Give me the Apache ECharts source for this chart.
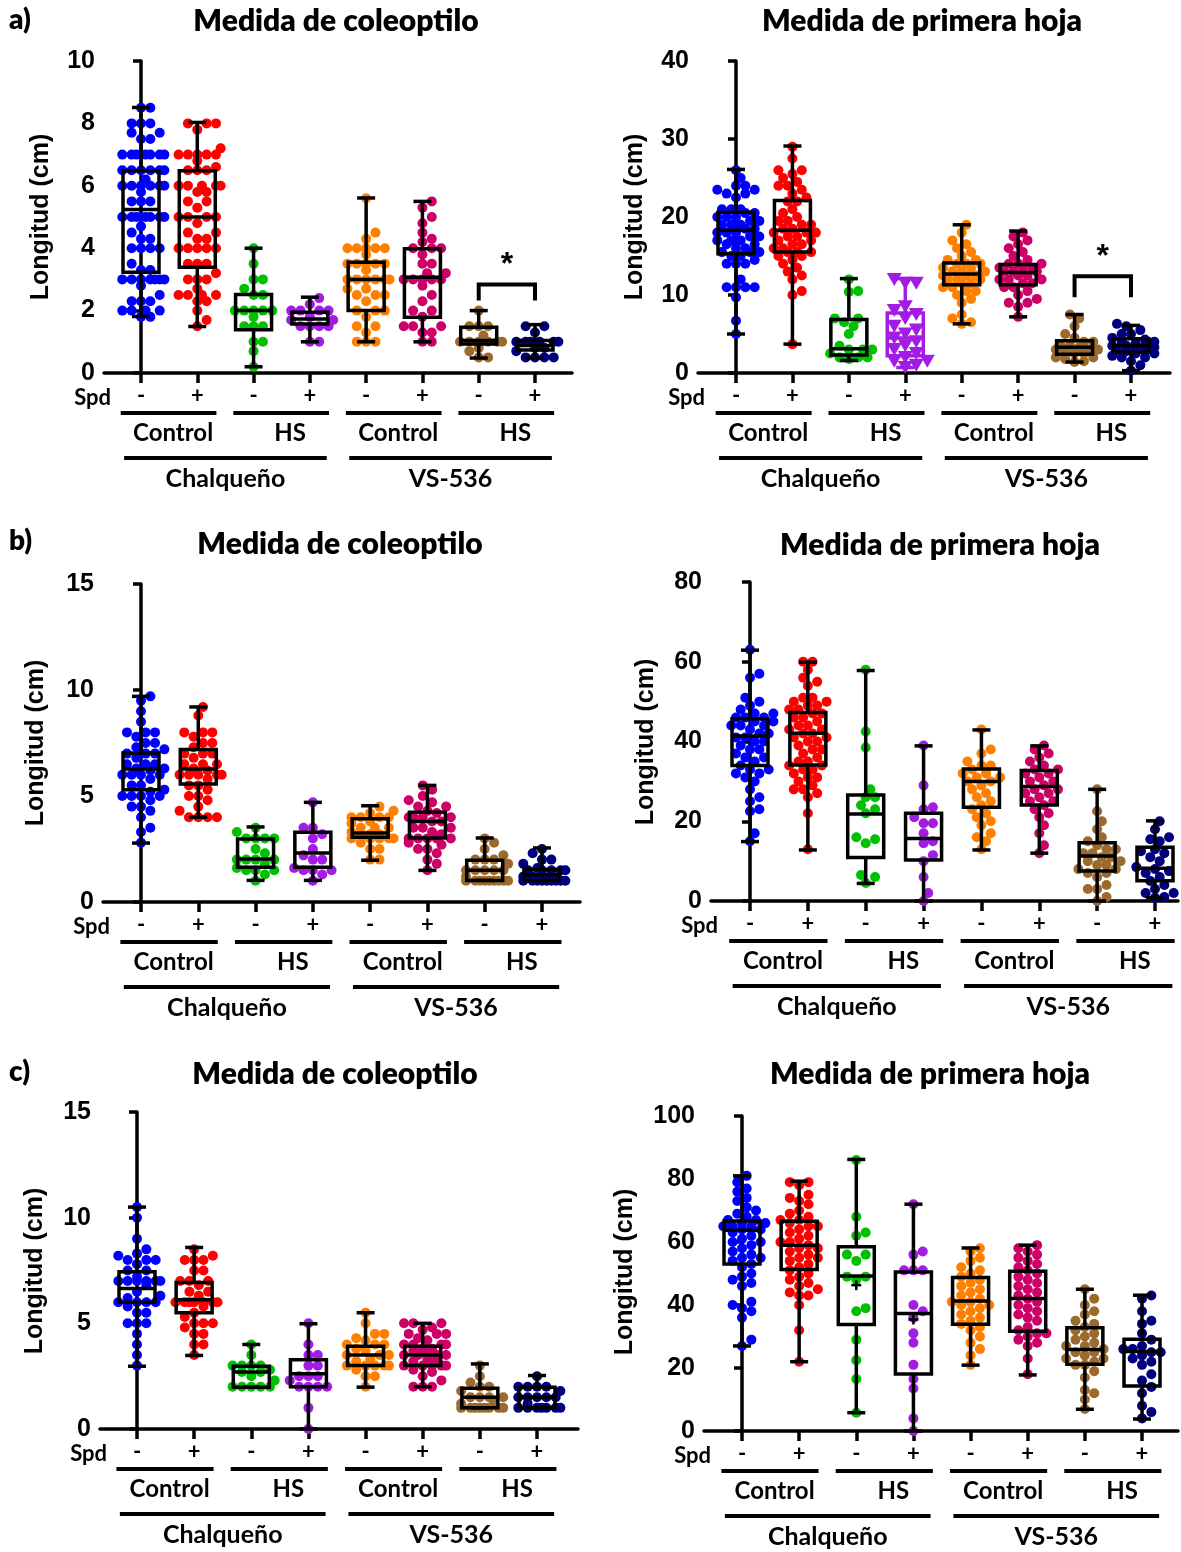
<!DOCTYPE html>
<html>
<head>
<meta charset="utf-8">
<script src="https://cdn.jsdelivr.net/npm/echarts@6/dist/echarts.min.js"></script>
<style>
  html, body { margin: 0; padding: 0; background: #fff; }
  #chart { width: 1181px; height: 1552px; }
</style>
</head>
<body>
<div id="chart"></div>
<script>
// ---- labels ----
const spdLabels = ['-', '+', '-', '+', '-', '+', '-', '+'];
const treatmentLabels = ['Control', 'HS', 'Control', 'HS'];
const cultivarLabels = ['Chalqueño', 'VS-536'];
const panelLetters = ['a)', 'b)', 'c)'];
const panelTitles = ['Medida de coleoptilo', 'Medida de primera hoja'];
const yAxisName = 'Longitud (cm)';

// ---- box statistics per group: [min, Q1, median, Q3, max] ----
const boxA1 = [[1.81,3.23,5.24,6.48,8.51],[1.49,3.39,5.0,6.48,8.03],[0.2,1.39,2.0,2.52,4.0],[1.0,1.57,1.73,1.95,2.43],[1.0,2.0,3.0,3.55,5.61],[1.0,1.79,3.07,3.98,5.5],[0.48,0.93,1.04,1.47,2.0],[0.48,0.74,0.88,1.04,1.55]];
const boxA2 = [[5.0,15.3,18.3,20.6,26.1],[3.7,15.5,18.3,22.1,29.1],[1.6,2.3,3.1,6.85,12.1],[0.7,2.2,4.5,7.7,12.1],[6.3,11.3,12.7,14.1,19.0],[7.2,11.3,12.9,13.9,18.2],[1.4,2.4,3.3,4.15,7.5],[0.3,2.65,3.5,4.4,6.1]];
const boxB1 = [[2.78,5.30,6.27,7.03,9.70],[4.0,5.57,6.27,7.19,9.2],[1.02,1.64,2.03,2.97,3.54],[1.02,1.64,2.31,3.29,4.70],[1.97,3.05,3.25,3.93,4.54],[1.49,3.02,3.8,4.23,5.5],[1.02,1.02,1.5,1.97,3.02],[1.0,1.02,1.29,1.53,2.55]];
const boxB2 = [[14.9,34.0,41.4,45.7,62.9],[12.8,34.1,42.1,47.3,59.9],[4.4,10.9,21.8,26.6,57.8],[0,10.3,15.7,22.0,38.9],[12.8,23.5,30.0,33.1,42.9],[12.0,24.1,28.7,32.7,38.9],[0,7.5,11.3,14.6,28.0],[0.8,5.1,8.2,13.5,20.1]];
const boxC1 = [[2.97,6.0,6.65,7.44,10.5],[3.48,5.5,6.12,6.93,8.59],[1.98,1.98,2.7,2.97,4.0],[0,2.0,2.61,3.28,4.98],[1.98,3.0,3.5,3.92,5.5],[2.0,3.0,3.5,3.92,5.0],[1.0,1.0,1.5,1.93,3.08],[1.0,1.0,1.5,1.98,2.53]];
const boxC2 = [[27.0,53.0,63.7,66.7,81.0],[22.0,51.3,59.0,66.6,79.3],[5.8,33.8,49.2,58.5,86.2],[0,18.1,37.3,50.5,72.0],[20.9,33.9,41.3,48.7,58.1],[17.8,31.7,42.1,50.7,59.0],[6.9,21.2,25.9,32.8,45.0],[3.8,14.3,25.2,29.1,43.1]];

// group means shown as "+" (only where visible)
const meanC2 = [null, null, 46.3, 35.4, null, null, null, null];

// ---- individual measurements per group ----
const dotsA1 = [
  [8.5,8.5,8.0,8.0,8.0,7.7,7.7,7.5,7.5,7.0,7.0,7.0,7.0,7.0,7.0,7.0,7.0,6.5,6.5,6.5,6.5,6.5,6.5,6.2,6.0,6.0,6.0,6.0,6.0,6.0,5.8,5.5,5.5,5.5,5.0,5.0,5.0,5.0,5.0,5.0,5.0,5.0,4.7,4.5,4.3,4.3,4.0,4.0,4.0,4.0,3.5,3.3,3.3,3.0,3.0,3.0,3.0,3.0,3.0,3.0,2.8,2.5,2.3,2.3,2.3,2.0,2.0,2.0,2.0,1.8,1.8],
  [8.0,8.0,8.0,7.8,7.2,7.0,7.0,7.0,7.0,7.0,6.8,6.6,6.5,6.5,6.5,6.0,6.0,6.0,6.0,6.0,5.8,5.8,5.5,5.5,5.3,5.0,5.0,5.0,5.0,4.8,4.5,4.5,4.3,4.3,4.0,4.0,4.0,4.0,4.0,3.5,3.5,3.5,3.2,3.0,3.0,3.0,2.7,2.5,2.5,2.5,2.5,2.3,2.3,2.0,1.7,1.5],
  [4.0,3.5,3.0,3.0,2.7,2.5,2.5,2.0,2.0,2.0,2.0,2.0,1.8,1.5,1.5,1.5,1.0,1.0,0.7,0.2],
  [2.4,2.2,2.0,2.0,2.0,2.0,1.8,1.7,1.7,1.5,1.5,1.5,1.5,1.0,1.0],
  [5.6,4.5,4.3,4.0,4.0,4.0,4.0,4.0,3.8,3.5,3.5,3.5,3.5,3.5,3.3,3.0,3.0,3.0,3.0,3.0,3.0,2.7,2.7,2.5,2.5,2.5,2.3,2.0,2.0,2.0,1.8,1.5,1.5,1.3,1.0,1.0,1.0],
  [5.5,5.3,5.0,4.8,4.5,4.3,4.2,4.0,4.0,4.0,3.8,3.5,3.5,3.2,3.2,3.0,3.0,3.0,3.0,3.0,2.8,2.5,2.3,2.0,2.0,1.8,1.5,1.5,1.5,1.3,1.3,1.0,1.0],
  [2.0,1.5,1.5,1.5,1.2,1.0,1.0,1.0,1.0,1.0,1.0,0.8,0.7,0.5,0.5],
  [1.5,1.5,1.3,1.0,1.0,1.0,1.0,1.0,1.0,0.8,0.8,0.7,0.5,0.5,0.5,0.5]
];
const dotsA2 = [
  [26,25,24,24,23.5,23.5,23,23,22.5,21,21,21,20.5,20.5,20,20,20,19.5,19.5,19,19,19,18.5,18.5,18,18,18,17.5,17.5,17,17,17,16.5,16.5,16,16,15.5,15.5,15.5,15,15,14.5,14,14,14,12,11,11,11,11,9.7,6.7,5],
  [29,27.5,26,26,25.5,25,24.5,24,24,23.5,23,22.5,22,22,21,20.5,20,19.5,19.5,19,19,18.5,18.5,18,18,18,17.5,17.5,17,17,16.5,16.5,16,16,15.5,15.5,15.5,15,15,14.5,14,13.5,13,12.5,12,10.5,10,3.7],
  [12,10.5,10.4,7,7,6.5,6,5,3.5,3,3,3,2.5,2,2,2,1.8],
  [12,11.5,11.5,8.5,8,7.5,7,6,5.5,5,4.5,4,3.5,3,2.5,2,1.5,1.5,1,0.7],
  [19,18,17,16.5,16,15.5,15,14.5,14.5,14,14,14,13.5,13.5,13,13,13,12.5,12.5,12.5,12,12,12,11.5,11.5,11,11,10.5,10.5,10,9.5,9,7.5,7,6.5,6.3],
  [18,17.5,17,16.5,16,15.5,15,14.5,14,14,14,13.5,13.5,13.5,13,13,13,12.5,12.5,12,12,12,11.5,11.5,11,11,10.5,10,9.5,9,9,8.5,7.2],
  [7.5,7,6,5,4.5,4,4,3.5,3.5,3.3,3,3,3,2.8,2.5,2.5,2,2,1.8,1.5,1.4],
  [6.3,6,5.5,5,5,4.5,4.3,4,4,3.8,3.5,3.5,3.5,3.3,3,3,3,2.8,2.5,2.5,2.2,2,2,1.5,1,0.3]
];
const dotsB1 = [
  [9.7,9.5,9,8.5,8,8,8,7.8,7.5,7.5,7.3,7.2,7,7,7,6.8,6.5,6.5,6.5,6.3,6.3,6.2,6,6,6,6,5.8,5.5,5.5,5.3,5.2,5,5,5,5,4.8,4.5,4.5,4.3,4,3.5,3.3,2.8],
  [9.2,8.8,8,8,8,7.8,7.5,7.5,7.3,7,7,7,6.8,6.5,6.5,6.5,6.3,6.2,6,6,6,6,6,5.8,5.5,5.5,5.3,5,5,4.8,4.5,4.3,4,4,4,4],
  [3.5,3.3,3,3,3,3,2.5,2.3,2,2,2,2,1.8,1.6,1.5,1.5,1.5,1.3,1],
  [4.7,3.5,3.5,3.2,3,2.5,2.2,2,2,1.6,1.5,1.5,1.5,1.3,1],
  [4.5,4.3,4.2,4,4,4,4,3.8,3.7,3.5,3.5,3.5,3.3,3.2,3.2,3.1,3,3,3,3,3,2.8,2.5,2.5,2,2],
  [5.5,5.3,5,4.8,4.7,4.5,4.5,4.3,4.2,4,4,4,4,3.8,3.8,3.5,3.5,3.5,3.3,3.2,3,3,3,3,3,2.8,2.7,2.5,2.5,2.3,2,1.8,1.5],
  [3,2.8,2.5,2.2,2,2,2,1.8,1.5,1.5,1.5,1.5,1.5,1.2,1,1,1,1,1,1,1,1,1],
  [2.5,2.3,2,2,1.8,1.6,1.5,1.5,1.5,1.5,1.5,1.2,1.2,1,1,1,1,1,1,1,1,1]
];
const dotsB2 = [
  [63,57,56,51,50,49,48,47,47,46,46,46,45,45,44,44,44,43,42,42,41,41,40,40,39,38,38,37,36,36,35,34,33,33,32,32,31,30,28,26,25,23,22.5,17,15],
  [60,60,58,56,55,54,51,51,50,50,49,49,48,48,47,47,46,46,45,44,44,43,43,42,42,41,41,40,40,39,38,38,37,36,35,35,34,34,33,33,32,31,31,30,29,28,28,27,26,22,13],
  [58,42.5,38.5,28,26,26,24,23,22,16,15.5,14.5,6.5,6,4.5],
  [39,29,23.5,23,21,19.5,19.5,17,15,14.5,11.5,10,6,2,0],
  [43,38,37,35,34,34,33,32,32,31,31,30,30,29,28,27,26,25,24,23,22,21,20,19,17,16,15,13],
  [39,38,37,36,35,34,33,33,32,32,31,30,30,29,28,28,27,27,26,25,25,24,23,22,21,19,17,14,12],
  [28,22.5,20,18,16,15,14,13,13,12,12,11,11,10,10,9,9,8,8,7,7,6,4,3,3,1,0],
  [20,18,16,15.5,15,13,12.5,12,11,10,9,8.5,8,7.5,7,6,5,4,3,2,2,1,0.8]
];
const dotsC1 = [
  [10.5,10,9,8.5,8.3,8.2,8,8,8,7.8,7.5,7.5,7.2,7,7,7,7,7,7,6.8,6.5,6.3,6.2,6,6,6,6,5.8,5.5,5.5,5,5,5,4.5,4,3.5,3],
  [8.5,8.2,8,8,8,7.5,7.5,7,7,7,6.8,6.5,6.5,6.3,6,6,6,6,6,6,6,5.8,5.5,5.3,5,5,5,4.8,4.5,4.5,4,4,3.5],
  [4,3.5,3,3,3,3,2.8,2.7,2.7,2.5,2.3,2,2,2,2,2],
  [5,4,3.5,3.5,3,3,2.5,2.5,2.5,2.3,2,2,2,2,1,0],
  [5.5,5,4.5,4.5,4.3,4.2,4,4,4,3.8,3.7,3.5,3.5,3.5,3.3,3.2,3,3,3,3,3,2.8,2.5,2.5,2],
  [5,5,5,4.8,4.7,4.5,4.5,4.5,4.3,4.2,4,4,4,4,3.8,3.8,3.7,3.5,3.5,3.5,3.5,3.5,3.3,3.3,3.2,3,3,3,3,3,2.8,2.7,2.5,2.3,2,2,2],
  [3,2.5,2.2,2,2,1.8,1.5,1.5,1.5,1.5,1.2,1.2,1,1,1,1,1,1,1,1],
  [2.5,2,2,2,2,1.8,1.5,1.5,1.5,1.5,1.5,1.2,1,1,1,1,1,1,1]
];
const dotsC2 = [
  [81,79,77,76,74,73,71,70,69,68,67,67,66,66,65,65,65,64,64,63,62,61,60,60,59,58,57,56,55,55,54,53,52,50,49,48,47,46,41,40,39,38,36,29,27],
  [79,79,78,75,74,73,72,70,69,68,67,67,66,65,65,64,63,62,61,60,60,59,58,58,57,56,55,55,54,53,52,51,50,49,48,47,46,45,44,43,43,40,32,22],
  [86,68,62,63,56,56,54,49,49,48,39,38,29,22.5,16.5,5.8],
  [72,57,56,51,51,51,40,38,36,31,28,21,16.5,13.5,4,0],
  [58,57,55,54,52,51,50,49,48,47,46,45,44,43,42,41,41,40,40,39,38,37,36,35,34,33,32,30,28,26,24,21],
  [59,58,57,56,55,54,53,52,51,50,49,48,47,46,45,44,43,42,41,40,39,38,37,36,35,33,32,31,31,30,29,28,27,23,18],
  [45,42,40,38,37,35,34,33,32,31,30,29,28,27,27,26,25,25,24,23,23,22,21,21,19,17,13,12,10,7],
  [43,42,38,35,34,31,29,27,26,26,25,25,24,23,22,21,18,16,14,12,8,6,4]
];

// significance brackets: [fromGroup, toGroup, bracketY, legY, starY]
const sigA1 = [[6, 7, 2.84, 2.32, 3.45]];
const sigA2 = [[6, 7, 12.4, 9.7, 14.9]];

// ---- styling / layout ----
const groupColors = ['#0000FF', '#FF0000', '#00C000', '#A21CE4', '#FF8000', '#CC0066', '#9C6A2C', '#00007F'];
const LATIN = 'Lato, "Open Sans", sans-serif';
const ARIAL = '"Liberation Sans", Arial, sans-serif';

const panels = [
  { axisX: 104, top: 61, bottom: 373, right: 572, t0: 141, t7: 535, yMax: 10, yStep: 2, box: boxA1, dots: dotsA1, sig: sigA1, title: 0, titleX: 336, titleY: 21, nameX: 41, nameY: 217, letter: 0, letterY: 20 },
  { axisX: 698, top: 61, bottom: 373, right: 1170, t0: 736, t7: 1131, yMax: 40, yStep: 10, box: boxA2, dots: dotsA2, sig: sigA2, title: 1, titleX: 922, titleY: 21, nameX: 635, nameY: 217, triangles: [3] },
  { axisX: 103, top: 584, bottom: 902, right: 580, t0: 141, t7: 542, yMax: 15, yStep: 5, box: boxB1, dots: dotsB1, title: 0, titleX: 340, titleY: 544, nameX: 36, nameY: 743, letter: 1, letterY: 541 },
  { axisX: 711, top: 582, bottom: 901, right: 1178, t0: 750, t7: 1155, yMax: 80, yStep: 20, box: boxB2, dots: dotsB2, title: 1, titleX: 940, titleY: 545, nameX: 646, nameY: 742 },
  { axisX: 100, top: 1112, bottom: 1429, right: 578, t0: 137, t7: 537, yMax: 15, yStep: 5, box: boxC1, dots: dotsC1, title: 0, titleX: 335, titleY: 1074, nameX: 35, nameY: 1271, letter: 2, letterY: 1072 },
  { axisX: 704, top: 1116, bottom: 1431, right: 1178, t0: 742, t7: 1142, yMax: 100, yStep: 20, box: boxC2, dots: dotsC2, mean: meanC2, title: 1, titleX: 930, titleY: 1074, nameX: 625, nameY: 1272 }
];

const tickValues = [0, 1, 2, 3, 4, 5, 6, 7];

// beeswarm offsets (in x-axis units) so that dots with close values sit side by side
function swarmOffsets(values, pxPerUnit, pxPerGroup, d) {
  const order = values.map((v, i) => i).sort((a, b) => values[a] - values[b]);
  const placed = [];
  const out = new Array(values.length);
  const step = d * 0.55;
  for (const i of order) {
    const y = values[i] * pxPerUnit;
    let best = 0, bestCost = Infinity;
    for (let k = 0; k <= 9; k++) {
      const off = (k % 2 === 1 ? 1 : -1) * Math.ceil(k / 2) * step;
      let cost = 0;
      for (const p of placed) {
        const dist = Math.hypot(p.x - off, p.y - y);
        if (dist < d) cost += d - dist;
      }
      if (cost === 0) { best = off; bestCost = 0; break; }
      if (cost < bestCost - 1e-9) { bestCost = cost; best = off; }
    }
    placed.push({ x: best, y });
    out[i] = best / pxPerGroup;
  }
  return out;
}

function makeBoxRenderer(colorFor) {
  return function (params, api) {
    const g = api.value(0);
    const mn = api.coord([g, api.value(1)]);
    const q1 = api.coord([g, api.value(2)]);
    const md = api.coord([g, api.value(3)]);
    const q3 = api.coord([g, api.value(4)]);
    const mx = api.coord([g, api.value(5)]);
    const cx = mn[0];
    const halfBox = 18, halfCap = 9;
    const col = colorFor(Math.round(g));
    const st = { stroke: col, lineWidth: 3.5, fill: 'none' };
    const children = [
      { type: 'line', shape: { x1: cx, y1: mx[1], x2: cx, y2: q3[1] }, style: st },
      { type: 'line', shape: { x1: cx, y1: q1[1], x2: cx, y2: mn[1] }, style: st },
      { type: 'line', shape: { x1: cx - halfCap, y1: mx[1], x2: cx + halfCap, y2: mx[1] }, style: st },
      { type: 'line', shape: { x1: cx - halfCap, y1: mn[1], x2: cx + halfCap, y2: mn[1] }, style: st },
      { type: 'rect', shape: { x: cx - halfBox, y: q3[1], width: halfBox * 2, height: q1[1] - q3[1] }, style: st },
      { type: 'line', shape: { x1: cx - halfBox, y1: md[1], x2: cx + halfBox, y2: md[1] }, style: st }
    ];
    const mean = api.value(6);
    if (mean != null && !isNaN(mean)) {
      const mp = api.coord([g, mean]);
      const s = { stroke: '#000', lineWidth: 2.5 };
      children.push({ type: 'line', shape: { x1: mp[0] - 5, y1: mp[1], x2: mp[0] + 5, y2: mp[1] }, style: s });
      children.push({ type: 'line', shape: { x1: mp[0], y1: mp[1] - 5, x2: mp[0], y2: mp[1] + 5 }, style: s });
    }
    return { type: 'group', children };
  };
}

function renderBracket(params, api) {
  const a = api.coord([api.value(0), api.value(2)]);
  const b = api.coord([api.value(1), api.value(2)]);
  const legY = api.coord([api.value(0), api.value(3)])[1];
  const star = api.coord([(api.value(0) + api.value(1)) / 2, api.value(4)]);
  return {
    type: 'group',
    children: [
      { type: 'polyline', shape: { points: [[a[0], legY], [a[0], a[1]], [b[0], b[1]], [b[0], legY]] }, style: { stroke: '#000', lineWidth: 4, fill: 'none' } },
      { type: 'text', x: star[0], y: star[1], style: { text: '*', fontSize: 32, fontWeight: 'bold', fontFamily: ARIAL, fill: '#000', align: 'center', verticalAlign: 'middle' } }
    ]
  };
}

const option = { animation: false, backgroundColor: '#fff', grid: [], xAxis: [], yAxis: [], series: [], graphic: [] };

panels.forEach((p, pi) => {
  const sp = (p.t7 - p.t0) / 7;
  const xmin = -(p.t0 - p.axisX) / sp;
  const xmax = 7 + (p.right - p.t7) / sp;
  const h = p.bottom - p.top;
  const xPx = v => p.axisX + (v - xmin) * sp;

  option.grid.push({ left: p.axisX, top: p.top, width: p.right - p.axisX, height: h, containLabel: false });
  option.xAxis.push({
    type: 'value', gridIndex: pi, min: xmin, max: xmax,
    axisLine: { show: true, onZero: false, lineStyle: { color: '#000', width: 3.5 } },
    axisTick: { show: true, customValues: tickValues, length: 10, lineStyle: { color: '#000', width: 3.5 } },
    axisLabel: { show: true, customValues: tickValues, formatter: v => spdLabels[Math.round(v)], fontFamily: LATIN, fontWeight: 'bold', fontSize: 22, color: '#000', margin: 12 },
    splitLine: { show: false }
  });
  option.yAxis.push({
    type: 'value', gridIndex: pi, min: 0, max: p.yMax, interval: p.yStep,
    axisLine: { show: true, lineStyle: { color: '#000', width: 3.5 } },
    axisTick: { show: true, length: 8, lineStyle: { color: '#000', width: 3.5 } },
    axisLabel: { fontFamily: ARIAL, fontWeight: 'bold', fontSize: 25, color: '#000', margin: 9 },
    splitLine: { show: false }
  });

  // dots
  const pxPerUnit = h / p.yMax;
  const scatterData = [];
  p.dots.forEach((vals, g) => {
    const tri = p.triangles && p.triangles.indexOf(g) >= 0;
    const offs = swarmOffsets(vals, pxPerUnit, sp, tri ? 10 : 8.5);
    vals.forEach((v, k) => {
      const item = { value: [g + offs[k], v], itemStyle: { color: groupColors[g], opacity: 1 } };
      if (tri) { item.symbol = 'triangle'; item.symbolRotate = 180; item.symbolSize = [15, 13]; }
      scatterData.push(item);
    });
  });
  option.series.push({ type: 'scatter', xAxisIndex: pi, yAxisIndex: pi, symbol: 'circle', symbolSize: 10, itemStyle: { opacity: 1 }, data: scatterData, z: 2, silent: true });

  // boxes
  const boxData = p.box.map((b, g) => [g, b[0], b[1], b[2], b[3], b[4], p.mean && p.mean[g] != null ? p.mean[g] : NaN]);
  const boxColor = g => (p.triangles && p.triangles.indexOf(g) >= 0) ? groupColors[g] : '#000';
  option.series.push({ type: 'custom', xAxisIndex: pi, yAxisIndex: pi, data: boxData, renderItem: makeBoxRenderer(boxColor), z: 3, silent: true, encode: { x: 0, y: [1, 2, 3, 4, 5] } });

  if (p.sig) {
    option.series.push({ type: 'custom', xAxisIndex: pi, yAxisIndex: pi, data: p.sig, renderItem: renderBracket, z: 4, silent: true, encode: { x: [0, 1], y: [2, 3, 4] } });
  }

  // titles, letters, y-axis name
  option.graphic.push({ type: 'text', x: p.titleX, y: p.titleY, style: { text: panelTitles[p.title], fontFamily: LATIN, fontWeight: 800, fontSize: 30, fill: '#000', align: 'center', verticalAlign: 'middle' } });
  if (p.letter != null) {
    option.graphic.push({ type: 'text', x: 9, y: p.letterY, style: { text: panelLetters[p.letter], fontFamily: LATIN, fontWeight: 800, fontSize: 28, fill: '#000', align: 'left', verticalAlign: 'middle' } });
  }
  option.graphic.push({ type: 'text', x: p.nameX, y: p.nameY, rotation: Math.PI / 2, style: { text: yAxisName, fontFamily: ARIAL, fontWeight: 'bold', fontSize: 25, fill: '#000', align: 'center', verticalAlign: 'middle' } });

  // group labels below the x axis
  const base = p.bottom;
  option.graphic.push({ type: 'text', x: p.axisX + 7, y: base + 25, style: { text: 'Spd', fontFamily: LATIN, fontWeight: 'bold', fontSize: 22, fill: '#000', align: 'right', verticalAlign: 'middle' } });
  for (let t = 0; t < 4; t++) {
    const g0 = 2 * t, g1 = 2 * t + 1;
    option.graphic.push({ type: 'line', shape: { x1: xPx(g0 - 0.36), y1: base + 40, x2: xPx(g1 + 0.34), y2: base + 40 }, style: { stroke: '#000', lineWidth: 4 } });
    const cxTxt = treatmentLabels[t] === 'HS' ? xPx(g0 + 0.65) : xPx(g0 + 0.57);
    option.graphic.push({ type: 'text', x: cxTxt, y: base + 60, style: { text: treatmentLabels[t], fontFamily: LATIN, fontWeight: 'bold', fontSize: 24, fill: '#000', align: 'center', verticalAlign: 'middle' } });
  }
  for (let c = 0; c < 2; c++) {
    const g0 = 4 * c, g3 = 4 * c + 3;
    option.graphic.push({ type: 'line', shape: { x1: xPx(g0 - 0.3), y1: base + 85, x2: xPx(g3 + 0.3), y2: base + 85 }, style: { stroke: '#000', lineWidth: 4 } });
    option.graphic.push({ type: 'text', x: (xPx(g0 - 0.3) + xPx(g3 + 0.3)) / 2, y: base + 106, style: { text: cultivarLabels[c], fontFamily: LATIN, fontWeight: 'bold', fontSize: 25, fill: '#000', align: 'center', verticalAlign: 'middle' } });
  }
});

const chart = echarts.init(document.getElementById('chart'), null, { renderer: 'canvas' });
chart.setOption(option);
</script>
</body>
</html>
